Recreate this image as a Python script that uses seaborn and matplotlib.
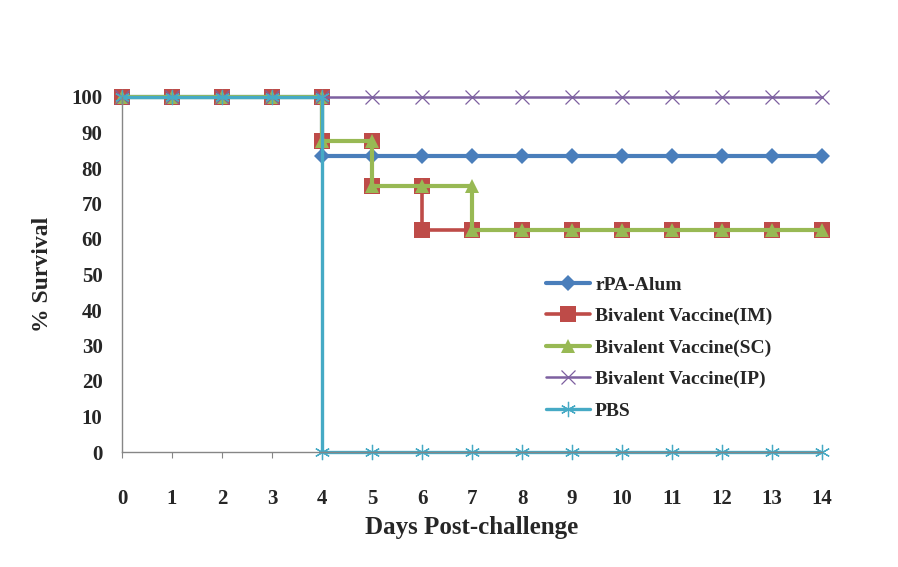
import matplotlib
matplotlib.use("Agg")
import matplotlib.pyplot as plt
import seaborn as sns
import pandas as pd

# ---- data (step points duplicated at event days) ----
rpa_x = [0, 1, 2, 3, 4, 4, 5, 6, 7, 8, 9, 10, 11, 12, 13, 14]
rpa_y = [100, 100, 100, 100, 100, 83.3, 83.3, 83.3, 83.3, 83.3, 83.3, 83.3, 83.3, 83.3, 83.3, 83.3]

im_x = [0, 1, 2, 3, 4, 4, 5, 5, 6, 6, 7, 8, 9, 10, 11, 12, 13, 14]
im_y = [100, 100, 100, 100, 100, 87.5, 87.5, 75, 75, 62.5, 62.5, 62.5, 62.5, 62.5, 62.5, 62.5, 62.5, 62.5]

sc_x = [0, 1, 2, 3, 4, 4, 5, 5, 6, 7, 7, 8, 9, 10, 11, 12, 13, 14]
sc_y = [100, 100, 100, 100, 100, 87.5, 87.5, 75, 75, 75, 62.5, 62.5, 62.5, 62.5, 62.5, 62.5, 62.5, 62.5]

ip_x = [0, 1, 2, 3, 4, 5, 6, 7, 8, 9, 10, 11, 12, 13, 14]
ip_y = [100] * 15

pbs_x = [0, 1, 2, 3, 4, 4, 5, 6, 7, 8, 9, 10, 11, 12, 13, 14]
pbs_y = [100, 100, 100, 100, 100, 0, 0, 0, 0, 0, 0, 0, 0, 0, 0, 0]

labels = ["rPA-Alum", "Bivalent Vaccine(IM)", "Bivalent Vaccine(SC)",
          "Bivalent Vaccine(IP)", "PBS"]
x_ticks = list(range(0, 15))
y_ticks = list(range(0, 101, 10))

sns.set_theme(style="white")
plt.rcParams["font.family"] = ["Liberation Serif", "DejaVu Serif"]
plt.rcParams["font.weight"] = "bold"

fig = plt.figure(figsize=(8.98, 5.67), dpi=100)
ax = fig.add_axes([122 / 898, 1 - 452 / 567, 700 / 898, 355 / 567])

colors = ["#4A7EBB", "#BE4B48", "#98B954", "#7D60A0", "#46AAC5"]
styles = [
    dict(marker="D", markersize=8, linewidth=3.0, markeredgewidth=0),
    dict(marker="s", markersize=11, linewidth=2.6, markeredgewidth=0),
    dict(marker="^", markersize=10, linewidth=3.0, markeredgewidth=0),
    dict(marker="x", markersize=10, linewidth=1.8, markeredgewidth=0.9),
    dict(marker=(6, 2, 0), markersize=11, linewidth=2.4, markeredgewidth=0.9),
]
series = [(rpa_x, rpa_y), (im_x, im_y), (sc_x, sc_y), (ip_x, ip_y), (pbs_x, pbs_y)]

for (xs, ys), lab, st, c in zip(series, labels, styles, colors):
    df = pd.DataFrame({"day": xs, "surv": ys})
    sns.lineplot(data=df, x="day", y="surv", sort=False, estimator=None,
                 ax=ax, label=lab, clip_on=False, color=c,
                 markeredgecolor=c, markerfacecolor=c, **st)

ax.set_xlim(0, 14)
ax.set_ylim(0, 100)
ax.set_xticks(x_ticks)
ax.set_yticks(y_ticks)
ax.set_xticklabels([str(v) for v in x_ticks], fontsize=15, fontweight="bold")
ax.set_yticklabels([str(v) for v in y_ticks], fontsize=15, fontweight="bold")

for s in ["top", "right"]:
    ax.spines[s].set_visible(False)
for s in ["left", "bottom"]:
    ax.spines[s].set_color("#868686")
    ax.spines[s].set_linewidth(1.0)

ax.tick_params(axis="x", direction="out", length=4, width=0.8, color="#868686",
               pad=23, bottom=True)
ax.tick_params(axis="y", length=0, pad=14, left=False)

ax.set_xlabel("Days Post-challenge", fontsize=18, fontweight="bold", labelpad=5)
ax.set_ylabel("% Survival", fontsize=17, fontweight="bold", labelpad=13)

leg = ax.legend(loc="upper left", bbox_to_anchor=(0.605, 0.495), frameon=False,
                fontsize=14, handlelength=2.3, handletextpad=0.25,
                labelspacing=0.71, borderpad=0, borderaxespad=0)
for t in leg.get_texts():
    t.set_fontweight("bold")

fig.savefig("out.png", dpi=100)
